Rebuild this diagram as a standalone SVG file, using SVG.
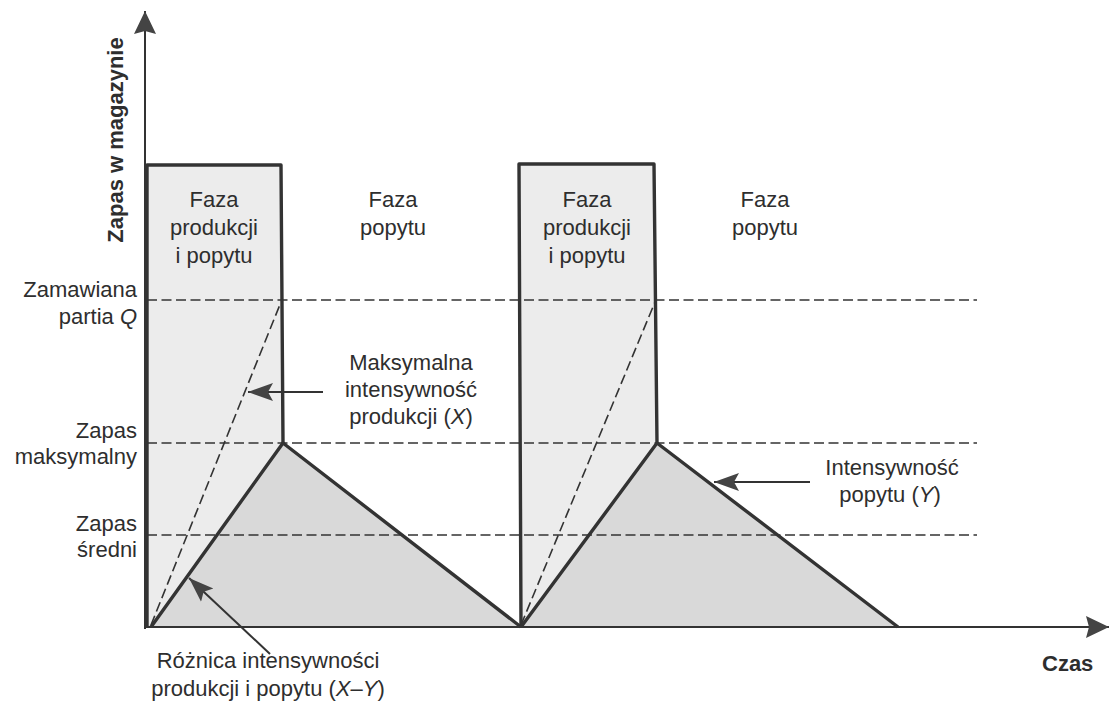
<svg xmlns="http://www.w3.org/2000/svg" width="1110" height="713" viewBox="0 0 1110 713">
  <style>
    .txt { font-family: "Liberation Sans", Arial, sans-serif; font-size: 22px; fill: #2e2e2e; }
    .mid { text-anchor: middle; }
    .end { text-anchor: end; }
    .bold { font-weight: bold; }
    .it { font-style: italic; }
    .outline { fill: none; stroke: #333; stroke-width: 3.4; stroke-linejoin: round; }
    .guide { fill: none; stroke: #333; stroke-width: 1.6; stroke-dasharray: 10 4.5; }
    .axis { fill: none; stroke: #333; stroke-width: 2; }
    .pointer { fill: none; stroke: #333; stroke-width: 2; marker-end: url(#head); }
    .stock-prod { fill: #ececec; }
    .stock-tri { fill: #d9d9d9; }
  </style>
  <defs>
    <marker id="head" viewBox="0 0 26 20" refX="25" refY="10" markerWidth="26" markerHeight="20" markerUnits="userSpaceOnUse" orient="auto">
      <path d="M0,1 L25,10 L0,19 L5,10 Z" fill="#444"/>
    </marker>
    <marker id="axhead" viewBox="0 0 24 22" refX="23" refY="11" markerWidth="24" markerHeight="22" markerUnits="userSpaceOnUse" orient="auto">
      <path d="M0,0 L23,11 L0,22 L3,11 Z" fill="#444"/>
    </marker>
  </defs>

  <rect width="1110" height="713" fill="#ffffff"/>

  <!-- production + demand phases (light fill) -->
  <g id="cycle1-fill">
    <polygon class="stock-prod" points="147,627 147,165 281,165 283,443 283,627"/>
    <polygon class="stock-tri" points="151,627 283,443 521,627"/>
  </g>
  <g id="cycle2-fill">
    <polygon class="stock-prod" points="520,627 519,164 654,164 657,443 657,627"/>
    <polygon class="stock-tri" points="521,627 657,443 898,627"/>
  </g>

  <!-- reference levels -->
  <g id="levels">
    <line class="guide" x1="147" y1="300" x2="977" y2="300"/>
    <line class="guide" x1="147" y1="443" x2="977" y2="443"/>
    <line class="guide" x1="147" y1="535" x2="977" y2="535"/>
    <line class="guide" x1="151" y1="625" x2="281" y2="302"/>
    <line class="guide" x1="521" y1="625" x2="655" y2="302"/>
  </g>

  <!-- outlines of the stock curves -->
  <g id="cycle1-outline">
    <path class="outline" d="M147,627 L147,165 L281,165 L283,443"/>
    <path class="outline" d="M151,627 L283,443 L521,627"/>
  </g>
  <g id="cycle2-outline">
    <path class="outline" d="M521,627 L519,164 L654,164 L657,443"/>
    <path class="outline" d="M521,627 L657,443 L898,627"/>
  </g>

  <!-- axes -->
  <g id="axes">
    <line class="axis" x1="145" y1="629" x2="145" y2="11" marker-end="url(#axhead)"/>
    <line class="axis" x1="145" y1="627" x2="1109" y2="627" marker-end="url(#axhead)"/>
  </g>

  <!-- connectors: label pointers -->
  <g id="connectors">
    <line class="pointer" x1="323" y1="392" x2="248" y2="392"/>
    <line class="pointer" x1="810" y1="482" x2="714" y2="482"/>
    <line class="pointer" x1="270" y1="654" x2="189" y2="578"/>
  </g>

  <!-- axis titles -->
  <g id="axis-y-title">
    <text class="txt bold mid" transform="translate(123,140) rotate(-90)">Zapas w magazynie</text>
  </g>
  <g id="axis-x-title">
    <text class="txt bold" x="1042" y="671">Czas</text>
  </g>

  <!-- level labels -->
  <g id="label-order">
    <text class="txt end" x="137" y="297">Zamawiana</text>
    <text class="txt end" x="137" y="324">partia <tspan class="it">Q</tspan></text>
  </g>
  <g id="label-max">
    <text class="txt end" x="137" y="438">Zapas</text>
    <text class="txt end" x="137" y="464">maksymalny</text>
  </g>
  <g id="label-avg">
    <text class="txt end" x="137" y="531">Zapas</text>
    <text class="txt end" x="137" y="557">średni</text>
  </g>

  <!-- phase labels -->
  <g id="phase1-prod">
    <text class="txt mid" x="214" y="207">Faza</text>
    <text class="txt mid" x="214" y="235">produkcji</text>
    <text class="txt mid" x="214" y="263">i popytu</text>
  </g>
  <g id="phase1-demand">
    <text class="txt mid" x="393" y="207">Faza</text>
    <text class="txt mid" x="393" y="235">popytu</text>
  </g>
  <g id="phase2-prod">
    <text class="txt mid" x="587" y="207">Faza</text>
    <text class="txt mid" x="587" y="235">produkcji</text>
    <text class="txt mid" x="587" y="263">i popytu</text>
  </g>
  <g id="phase2-demand">
    <text class="txt mid" x="765" y="207">Faza</text>
    <text class="txt mid" x="765" y="235">popytu</text>
  </g>

  <!-- rate labels -->
  <g id="label-max-rate">
    <text class="txt mid" x="411" y="370">Maksymalna</text>
    <text class="txt mid" x="411" y="397">intensywność</text>
    <text class="txt mid" x="411" y="424">produkcji (<tspan class="it">X</tspan>)</text>
  </g>
  <g id="label-demand-rate">
    <text class="txt mid" x="892" y="475">Intensywność</text>
    <text class="txt mid" x="890" y="502">popytu (<tspan class="it">Y</tspan>)</text>
  </g>
  <g id="label-diff-rate">
    <text class="txt mid" x="268" y="668">Różnica intensywności</text>
    <text class="txt mid" x="268" y="696">produkcji i popytu (<tspan class="it">X</tspan>–<tspan class="it">Y</tspan>)</text>
  </g>
</svg>
